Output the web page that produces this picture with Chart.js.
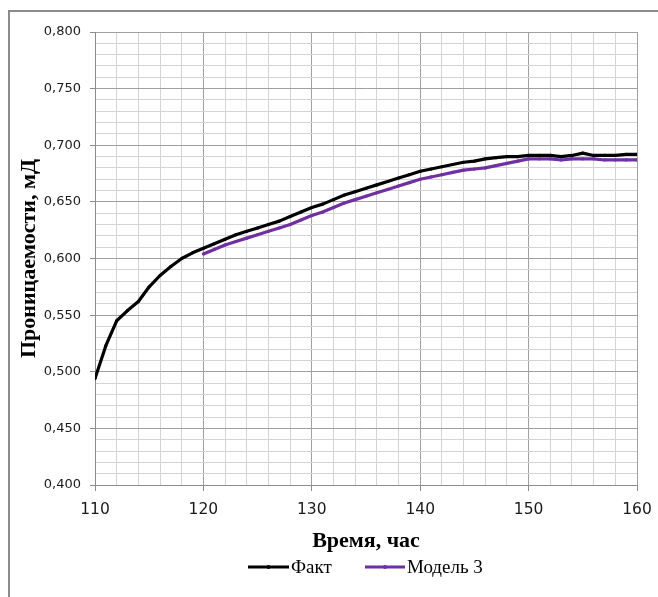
<!DOCTYPE html>
<html><head><meta charset="utf-8">
<script src="https://cdn.jsdelivr.net/npm/chart.js@4.4.1/dist/chart.umd.min.js"></script>
<style>html,body{margin:0;padding:0;background:#fff}canvas{display:block}</style>
</head><body>
<canvas id="c" width="658" height="597"></canvas>
<script>
// ---- data ----
const factHours = [110,111,112,113,114,115,116,117,118,119,120,121,122,123,124,125,126,127,128,129,130,131,132,133,134,135,136,137,138,139,140,141,142,143,144,145,146,147,148,149,150,151,152,153,154,155,156,157,158,159,160];
const factValues = [0.494,0.523,0.545,0.554,0.562,0.575,0.585,0.593,0.600,0.605,0.609,0.613,0.617,0.621,0.624,0.627,0.630,0.633,0.637,0.641,0.645,0.648,0.652,0.656,0.659,0.662,0.665,0.668,0.671,0.674,0.677,0.679,0.681,0.683,0.685,0.686,0.688,0.689,0.690,0.690,0.691,0.691,0.691,0.690,0.691,0.693,0.691,0.691,0.691,0.692,0.692];
const modelHours = [120,121,122,123,124,125,126,127,128,129,130,131,132,133,134,135,136,137,138,139,140,141,142,143,144,145,146,147,148,149,150,151,152,153,154,155,156,157,158,159,160];
const modelValues = [0.604,0.608,0.612,0.615,0.618,0.621,0.624,0.627,0.630,0.634,0.638,0.641,0.645,0.649,0.652,0.655,0.658,0.661,0.664,0.667,0.670,0.672,0.674,0.676,0.678,0.679,0.680,0.682,0.684,0.686,0.688,0.688,0.688,0.687,0.688,0.688,0.688,0.687,0.687,0.687,0.687];
const seriesNames = ['Факт', 'Модель 3'];
const xTitle = 'Время, час';
const yTitle = 'Проницаемости, мД';

const BLACK = '#000000';
const PURPLE = '#7030A0';

const xMajor = v => Math.round(v) % 10 === 0;
const yMajor = v => Math.round(v * 1000) % 50 === 0;

const decorPlugin = {
  id: 'decor',
  beforeDraw(chart) {
    const ctx = chart.ctx;
    ctx.save();
    ctx.fillStyle = '#fff';
    ctx.fillRect(0, 0, chart.width, chart.height);
    ctx.strokeStyle = '#8c8c8c';
    ctx.lineWidth = 2;
    ctx.strokeRect(9, 11, 700, 700);
    ctx.restore();
  },
  afterDraw(chart) {
    const ctx = chart.ctx;
    const ca = chart.chartArea;
    ctx.save();
    ctx.fillStyle = '#000';
    // x title
    ctx.font = 'bold 22px "Liberation Serif"';
    ctx.textAlign = 'center';
    ctx.textBaseline = 'alphabetic';
    ctx.fillText(xTitle, (ca.left + ca.right) / 2, 547);
    // y title
    ctx.save();
    ctx.translate(35, (ca.top + ca.bottom) / 2);
    ctx.rotate(-Math.PI / 2);
    ctx.fillText(yTitle, 0, 0);
    ctx.restore();
    // legend
    ctx.font = '19px "Liberation Serif"';
    ctx.textAlign = 'left';
    ctx.textBaseline = 'alphabetic';
    const items = [
      {x1: 248, x2: 289, tx: 291, color: BLACK, text: seriesNames[0]},
      {x1: 365, x2: 405, tx: 407, color: PURPLE, text: seriesNames[1]}
    ];
    const ly = 567;
    items.forEach(it => {
      ctx.strokeStyle = it.color;
      ctx.lineWidth = 3;
      ctx.beginPath();
      ctx.moveTo(it.x1, ly);
      ctx.lineTo(it.x2, ly);
      ctx.stroke();
      ctx.fillStyle = it.color;
      ctx.beginPath();
      ctx.arc((it.x1 + it.x2) / 2, ly, 2, 0, Math.PI * 2);
      ctx.fill();
      ctx.fillStyle = '#000';
      ctx.fillText(it.text, it.tx, ly + 6);
    });
    ctx.restore();
  }
};

new Chart(document.getElementById('c'), {
  type: 'line',
  data: {
    datasets: [
      {
        label: seriesNames[0],
        data: factHours.map((h, i) => ({x: h, y: factValues[i]})),
        borderColor: BLACK,
        backgroundColor: BLACK,
        borderWidth: 3.2,
        pointRadius: 1.6,
        pointBorderWidth: 0,
        tension: 0,
        borderJoinStyle: 'round',
        fill: false
      },
      {
        label: seriesNames[1],
        data: modelHours.map((h, i) => ({x: h, y: modelValues[i]})),
        borderColor: PURPLE,
        backgroundColor: PURPLE,
        borderWidth: 3.2,
        pointRadius: 1.6,
        pointBorderWidth: 0,
        tension: 0,
        borderJoinStyle: 'round',
        fill: false
      }
    ]
  },
  options: {
    responsive: false,
    animation: false,
    devicePixelRatio: 1,
    layout: {padding: {left: 10, right: 21, top: 32, bottom: 0}},
    plugins: {legend: {display: false}, tooltip: {enabled: false}},
    scales: {
      x: {
        type: 'linear',
        min: 110, max: 160,
        afterFit(s) { s.height = 112; s.paddingRight = 0; s.paddingLeft = 0; },
        border: {color: '#8c8c8c', width: 1},
        grid: {
          color: c => xMajor(c.tick.value) ? '#a0a0a0' : '#d4d4d4',
          tickColor: c => xMajor(c.tick.value) ? '#8c8c8c' : 'rgba(0,0,0,0)',
          tickLength: 6,
          lineWidth: 1
        },
        ticks: {
          stepSize: 2,
          autoSkip: false,
          maxRotation: 0,
          padding: 10,
          color: '#1a1a1a',
          font: {family: '"DejaVu Sans"', size: 15.5},
          callback: v => xMajor(v) ? String(Math.round(v)) : ''
        }
      },
      y: {
        type: 'linear',
        min: 0.4, max: 0.8,
        afterFit(s) { s.width = 85; s.paddingTop = 0; s.paddingBottom = 0; },
        border: {color: '#8c8c8c', width: 1},
        grid: {
          color: c => yMajor(c.tick.value) ? '#a0a0a0' : '#d4d4d4',
          tickColor: c => yMajor(c.tick.value) ? '#8c8c8c' : 'rgba(0,0,0,0)',
          tickLength: 5,
          lineWidth: 1
        },
        ticks: {
          stepSize: 0.01,
          autoSkip: false,
          padding: 9,
          color: '#1a1a1a',
          font: {family: '"DejaVu Sans"', size: 13},
          callback: v => yMajor(v) ? v.toFixed(3).replace('.', ',') : ''
        }
      }
    }
  },
  plugins: [decorPlugin]
});
</script>
</body></html>
